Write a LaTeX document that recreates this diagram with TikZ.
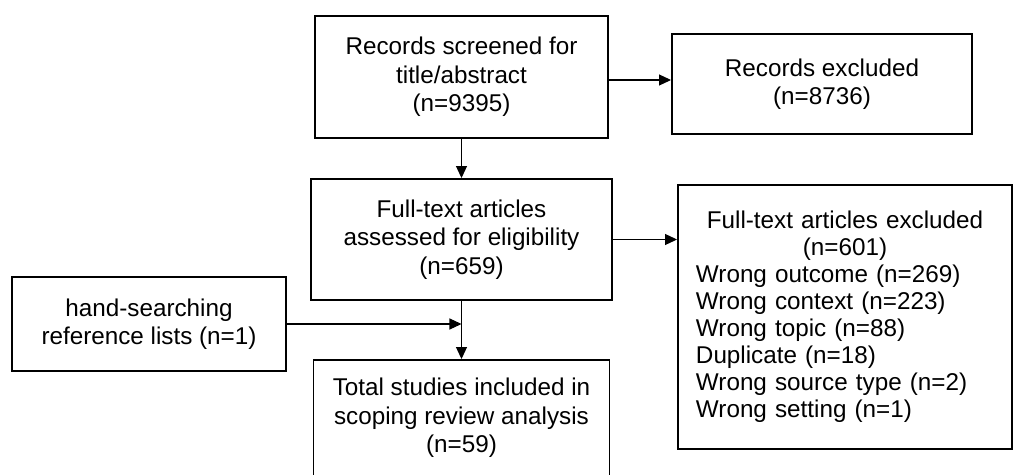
\documentclass[tikz,border=0pt]{standalone}
\usepackage{fontspec}
\setmainfont{Liberation Sans}
\usetikzlibrary{positioning,arrows.meta}

\begin{document}
\begin{tikzpicture}[node distance=3.25cm, auto,
	>={Triangle[length=0.24cm,width=0.22cm]},
	flowbox/.style={draw, line width=1.1pt, align=center, inner sep=0pt,
		font=\fontsize{13.8}{16.2}\selectfont},
	flowline/.style={line width=0.6pt}]
	\useasboundingbox (-9.23,1.54) rectangle (11.05,-7.96);
	\node (screened) [flowbox, minimum width=5.86cm, minimum height=2.44cm] {Records screened for\\title/abstract\\(n=9395)};
	\node (excluded) [flowbox, minimum width=6cm, minimum height=2cm, node distance=7.21cm, right of=screened, yshift=-0.14cm] {Records excluded\\(n=8736)};
	\node (fulltext) [flowbox, minimum width=6.02cm, minimum height=2.42cm, below of=screened] {Full-text articles\\assessed for eligibility\\(n=659)};
	\node (ftexcl) [flowbox, font=\fontsize{13.8}{15.4}\selectfont, minimum width=6.68cm, minimum height=5.28cm, text width=5.96cm, node distance=7.67cm, right of=fulltext, yshift=-1.55cm] {\centering Full-text articles excluded\\(n=601)\par\raggedright Wrong outcome (n=269)\\Wrong context (n=223)\\Wrong topic (n=88)\\Duplicate (n=18)\\Wrong source type (n=2)\\Wrong setting (n=1)\par\vspace{0.12cm}};
	\node (total) [flowbox, minimum width=5.92cm, minimum height=2.32cm, node distance=3.57cm, below of=fulltext] {Total studies included in\\scoping review analysis\\(n=59)};
	\node (hand) [flowbox, minimum width=5.48cm, minimum height=1.88cm, node distance=6.25cm, left of=fulltext, yshift=-1.69cm] {hand-searching\\reference lists (n=1)};
	\draw[flowline,->] (screened) to (fulltext);
	\draw[flowline,->] (screened.east |- 0,-0.06) to (excluded.west |- 0,-0.06);
	\draw[flowline,->] (fulltext.east) to (fulltext.east -| ftexcl.west);
	\draw[flowline,->] (fulltext) to (total);
	\draw[flowline,->] (hand.east) to (hand.east -| fulltext.south);
	\end{tikzpicture}
\end{document}
